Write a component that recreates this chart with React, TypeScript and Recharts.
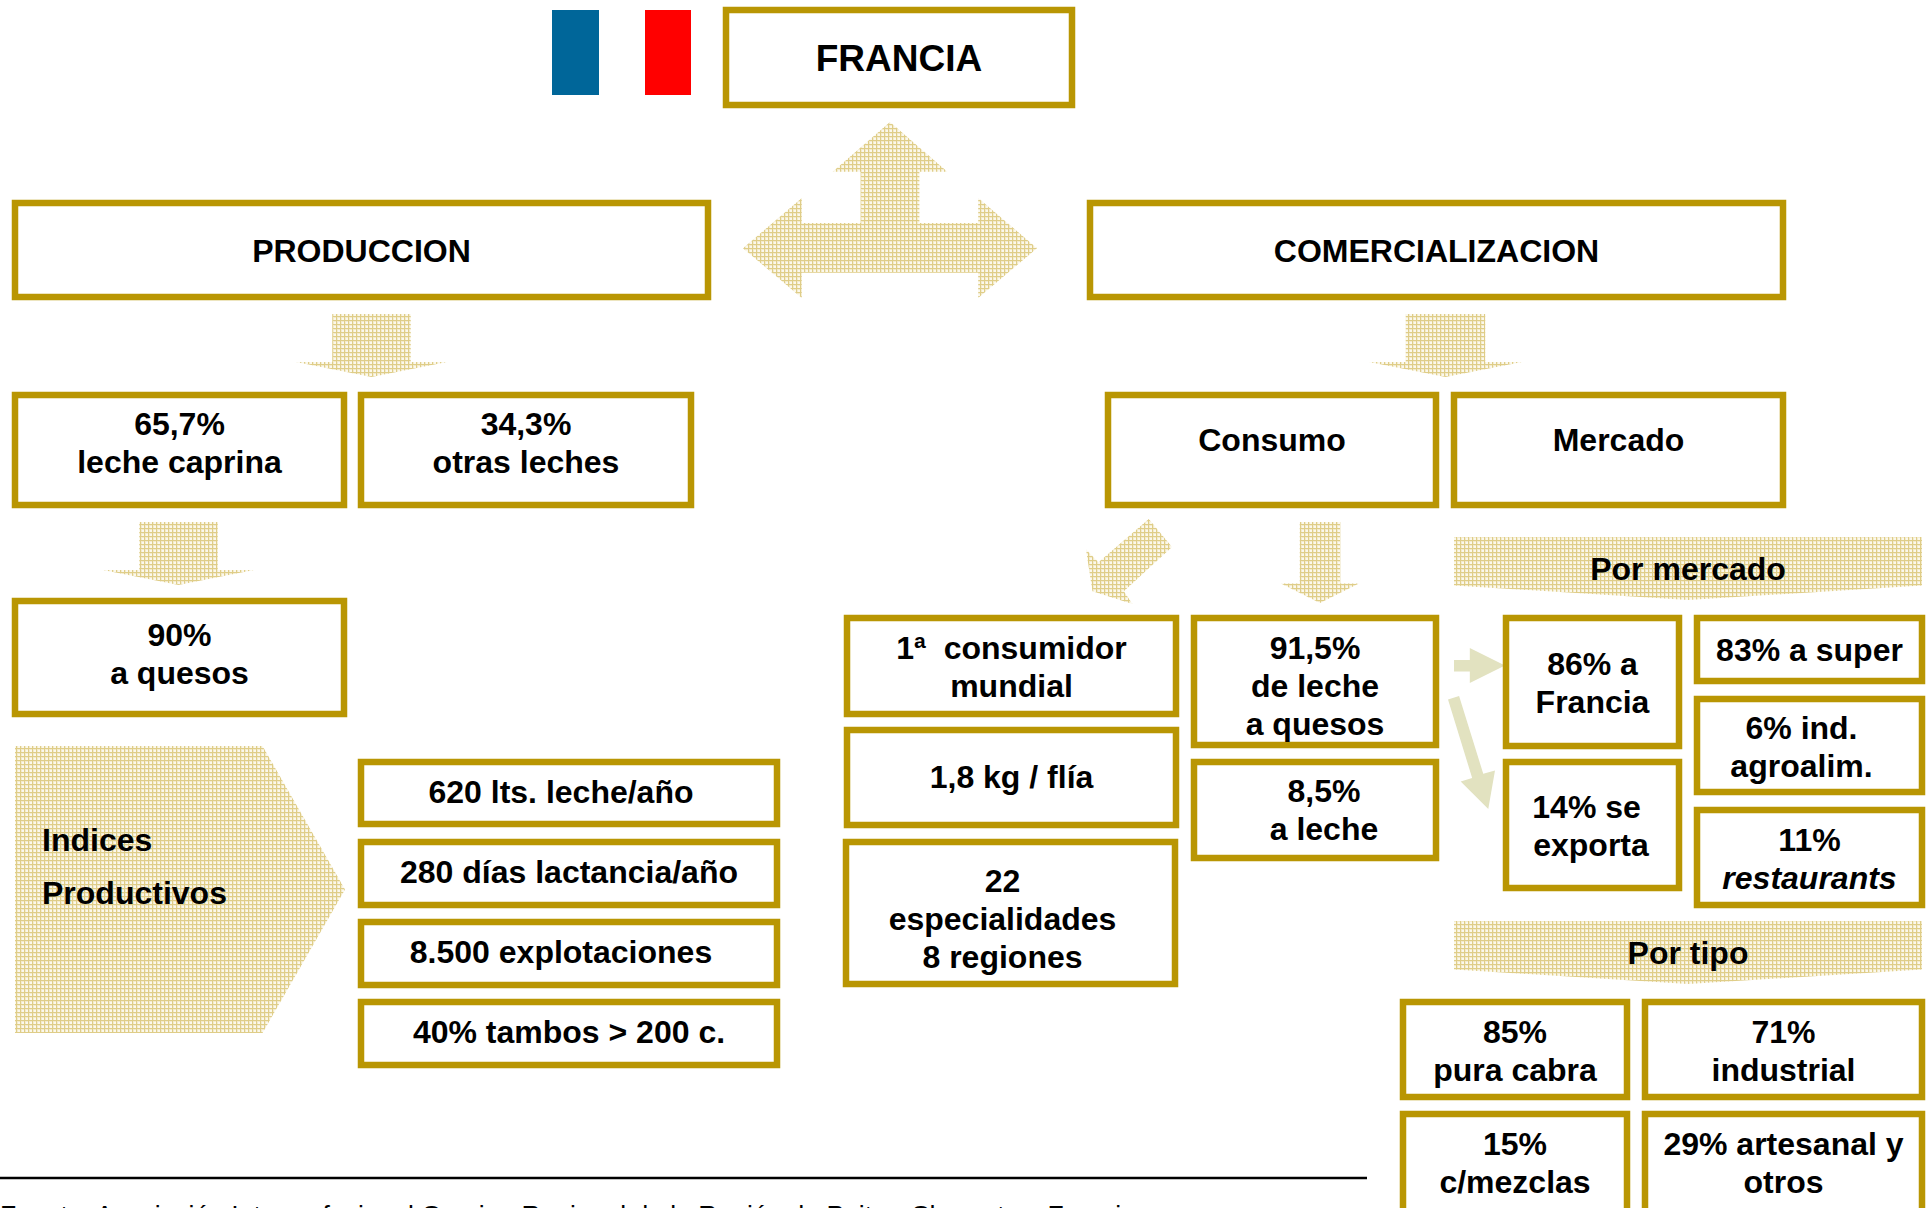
import React from "react";
import { ComposedChart, XAxis, YAxis, ReferenceArea, ReferenceLine } from "recharts";

const GOLD = "#b99603";
const WEAVE = "url(#goldWeave)";
const PALE_ARROW = "#e2e2c0";
const FONT = "'Liberation Sans', Arial, sans-serif";

// texts of the boxes, one entry per box, lines split with \n
const headerLabels = ["FRANCIA", "PRODUCCION", "COMERCIALIZACION"];
const produccionLabels = ["65,7%\nleche caprina", "34,3%\notras leches", "90%\na quesos"];
const indiceLabels = ["620 lts. leche/año", "280 días lactancia/año", "8.500 explotaciones", "40% tambos > 200 c."];
const consumoLabels = ["Consumo", "Mercado", "1ª\u00a0 consumidor\nmundial", "1,8 kg / flía", "22\nespecialidades\n8 regiones", "91,5%\nde leche\na quesos", "8,5%\na leche"];
const mercadoLabels = ["86% a\nFrancia", "14% se\u00a0\nexporta", "83% a super", "6% ind.\nagroalim.", "11%\nrestaurants"];
const tipoLabels = ["85%\npura cabra", "71%\nindustrial", "15%\nc/mezclas", "29% artesanal y\notros"];
const sectionLabels = ["Por mercado", "Por tipo"];
const pentagonLines = ["Indices", "Productivos"];
const sourceLabel = "Fuente: Asociación Interprofesional Caprina Regional de la Región de Poitou-Charentes, Francia";

type Rect = [number, number, number, number];
type Pt = [number, number];

// layout of the boxes, same order as the text lists: x1, y1, x2, y2
const headerRects: Rect[] = [[726, 10, 1072, 105], [15, 203, 708, 297], [1090, 203, 1783, 297]];
const produccionRects: Rect[] = [[15, 395, 344, 505], [361, 395, 691, 505], [15, 601, 344, 714]];
const indiceRects: Rect[] = [[361, 762, 777, 824], [361, 842, 777, 905], [361, 922, 777, 985], [361, 1002, 777, 1065]];
const consumoRects: Rect[] = [[1108, 395, 1436, 505], [1454, 395, 1783, 505], [847, 618, 1176, 714], [847, 730, 1176, 825], [846, 842, 1175, 984], [1194, 618, 1436, 745], [1194, 762, 1436, 858]];
const mercadoRects: Rect[] = [[1506, 618, 1679, 746], [1506, 762, 1679, 888], [1697, 618, 1922, 681], [1697, 699, 1922, 792], [1697, 810, 1922, 905]];
const tipoRects: Rect[] = [[1403, 1002, 1627, 1097], [1645, 1002, 1922, 1097], [1403, 1114, 1627, 1240], [1645, 1114, 1922, 1240]];

// text nudges per box
const produccionNudges: Pt[] = [[0, -7], [0, -7], [0, -4]];
const indiceNudges: Pt[] = [[-8, -1.5], [0, -1.5], [-8, -1.5], [0, -1.5]];
const consumoNudges: Pt[] = [[0, -10], [0, -10], [0, 1], [0, -1], [-8, 6], [0, 4], [9, 0]];
const mercadoNudges: Pt[] = [[0, 1], [-1.5, 1], [0, 0], [-8, 1], [0, 1]];
const tipoNudges: Pt[] = [[0, 1], [0, 1], [0, -14], [0, -14]];
const headerNudges: Pt[] = [[0, 2], [0, 1], [0, 1]];

// arrow outlines, as fractions of their bounding box
const downShape: Pt[] = [[0.24, 0], [0.76, 0], [0.76, 0.76], [1, 0.76], [0.5, 1], [0, 0.76], [0.24, 0.76]];
const bannerShape: Pt[] = [[0, 0], [1, 0], [1, 0.77], [0.5, 1], [0, 0.77]];
const threeWayShape: Pt[] = [
  [0.5, 0], [0.695, 0.283], [0.6, 0.283], [0.6, 0.574], [0.8, 0.574], [0.8, 0.432], [1, 0.717], [0.8, 1], [0.8, 0.857],
  [0.2, 0.857], [0.2, 1], [0, 0.717], [0.2, 0.432], [0.2, 0.574], [0.4, 0.574], [0.4, 0.283], [0.305, 0.283],
];
const pentagonShape: Pt[] = [[0, 0], [0.75, 0], [1, 0.5], [0.75, 1], [0, 1]];
const diagonalShape: Pt[] = [[0.73, 0], [1, 0.33], [0.44, 0.85], [0.54, 1], [0.075, 0.85], [0, 0.36], [0.145, 0.51]];
const rightShape: Pt[] = [[0, 0.34], [0.31, 0.34], [0.31, 0], [1, 0.5], [0.31, 1], [0.31, 0.67], [0, 0.67]];
const slantShape: Pt[] = [[0, 0.03], [0.236, 0], [0.75, 0.688], [1, 0.66], [0.857, 1], [0.27, 0.756], [0.514, 0.726]];

const downArrowRects: Rect[] = [[296, 314, 447, 377], [103, 522, 254, 585], [1369, 314, 1522, 377], [1281, 522, 1359, 603]];

function BoxShape({ x, y, width, height, text, dx = 0, dy = 0, size = 32, italicLast = false }: any) {
  const lines = String(text).split("\n");
  const lineH = 38;
  const first = y + height / 2 - ((lines.length - 1) * lineH) / 2 + 11 + dy;
  return (
    <g>
      <rect x={x} y={y} width={width} height={height} fill="#ffffff" stroke={GOLD} strokeWidth={6.5} />
      {lines.map((line, i) => (
        <text
          key={i}
          x={x + width / 2 + dx}
          y={first + i * lineH}
          textAnchor="middle"
          fontFamily={FONT}
          fontWeight="bold"
          fontStyle={italicLast && i === lines.length - 1 ? "italic" : "normal"}
          fontSize={size}
          fill="#000000"
        >
          {line}
        </text>
      ))}
    </g>
  );
}

function PolyShape({ x, y, width, height, outline, color, lines, textX, textY }: any) {
  const pts = outline.map(([px, py]: Pt) => `${x + px * width},${y + py * height}`).join(" ");
  return (
    <g>
      <polygon points={pts} fill={color} stroke="none" />
      {lines?.map((line: string, i: number) => (
        <text key={i} x={textX} y={textY + i * 53} fontFamily={FONT} fontWeight="bold" fontSize={32} fill="#000000">
          {line}
        </text>
      ))}
    </g>
  );
}

function renderBoxes(labels: string[], rects: Rect[], nudges: Pt[] = [], size?: number) {
  return labels.map((label, i) => (
    <ReferenceArea
      key={label}
      x1={rects[i][0]}
      y1={rects[i][1]}
      x2={rects[i][2]}
      y2={rects[i][3]}
      ifOverflow="visible"
      shape={(p: any) => (
        <BoxShape
          {...p}
          text={label}
          dx={nudges[i]?.[0] ?? 0}
          dy={nudges[i]?.[1] ?? 0}
          size={size && i === 0 ? size : 32}
          italicLast={label.endsWith("restaurants")}
        />
      )}
    />
  ));
}

function renderPoly(key: string, rect: Rect, outline: Pt[], color = WEAVE, extra: any = {}) {
  return (
    <ReferenceArea
      key={key}
      x1={rect[0]}
      y1={rect[1]}
      x2={rect[2]}
      y2={rect[3]}
      ifOverflow="visible"
      shape={(p: any) => <PolyShape {...p} outline={outline} color={color} {...extra} />}
    />
  );
}

function flagStripe(key: string, x1: number, x2: number, fill: string) {
  return <ReferenceArea key={key} x1={x1} x2={x2} y1={10} y2={95} ifOverflow="visible" fill={fill} fillOpacity={1} stroke="none" />;
}

export default function App() {
  return (
    <div style={{ position: "absolute", left: 0, top: 0, width: 1932, height: 1208, overflow: "hidden", background: "#fff" }}>
      <ComposedChart width={1932} height={1208} margin={{ top: 0, right: 0, bottom: 0, left: 0 }} data={[{ x: 0, y: 0 }]}>
        <defs>
          <pattern id="goldWeave" width="4" height="4" patternUnits="userSpaceOnUse">
            <rect width="4" height="4" fill="#f3ebcd" />
            <rect x="0" width="1" height="4" fill="#dfcd88" />
            <rect y="0" width="4" height="1" fill="#dfcd88" />
            <rect x="2" y="2" width="2" height="2" fill="#fbf8ec" />
          </pattern>
        </defs>
        <XAxis type="number" dataKey="x" domain={[0, 1932]} hide />
        <YAxis type="number" dataKey="y" domain={[0, 1208]} reversed hide />

        {flagStripe("blue", 552, 599, "#006699")}
        {flagStripe("red", 645, 691, "#ff0000")}

        {renderPoly("threeWay", [743, 122, 1037, 298], threeWayShape)}
        {downArrowRects.map((r, i) => renderPoly(`down${i}`, r, downShape))}
        {renderPoly("diag", [1086, 519, 1172, 604], diagonalShape)}
        {renderPoly("rightA", [1454, 648, 1505, 683], rightShape, PALE_ARROW)}
        {renderPoly("slantA", [1448, 696, 1495, 809], slantShape, PALE_ARROW)}

        {renderPoly("pent", [15, 746, 345, 1033], pentagonShape, WEAVE, { lines: pentagonLines, textX: 42, textY: 851 })}
        {renderPoly("bannerM", [1454, 537, 1922, 600], bannerShape)}
        {renderPoly("bannerT", [1454, 921, 1922, 984], bannerShape)}

        {renderBoxes(headerLabels, headerRects, headerNudges, 37)}
        {renderBoxes(produccionLabels, produccionRects, produccionNudges)}
        {renderBoxes(indiceLabels, indiceRects, indiceNudges)}
        {renderBoxes(consumoLabels, consumoRects, consumoNudges)}
        {renderBoxes(mercadoLabels, mercadoRects, mercadoNudges)}
        {renderBoxes(tipoLabels, tipoRects, tipoNudges)}

        {sectionLabels.map((label, i) => (
          <ReferenceArea
            key={label}
            x1={1454}
            x2={1922}
            y1={i === 0 ? 537 : 921}
            y2={i === 0 ? 600 : 984}
            ifOverflow="visible"
            fill="none"
            stroke="none"
            label={{ value: label, position: "center", fontFamily: FONT, fontWeight: "bold", fontSize: 32, fill: "#000000" }}
          />
        ))}

        <ReferenceLine ifOverflow="visible" segment={[{ x: 0, y: 1178 }, { x: 1367, y: 1178 }]} stroke="#000000" strokeWidth={2.5} />
        <ReferenceArea
          x1={0}
          x2={1200}
          y1={1200}
          y2={1230}
          ifOverflow="visible"
          shape={(p: any) => (
            <text x={p.x} y={p.y + 24} fontFamily={FONT} fontSize={26.5} fill="#000000">
              {sourceLabel}
            </text>
          )}
        />
      </ComposedChart>
    </div>
  );
}
